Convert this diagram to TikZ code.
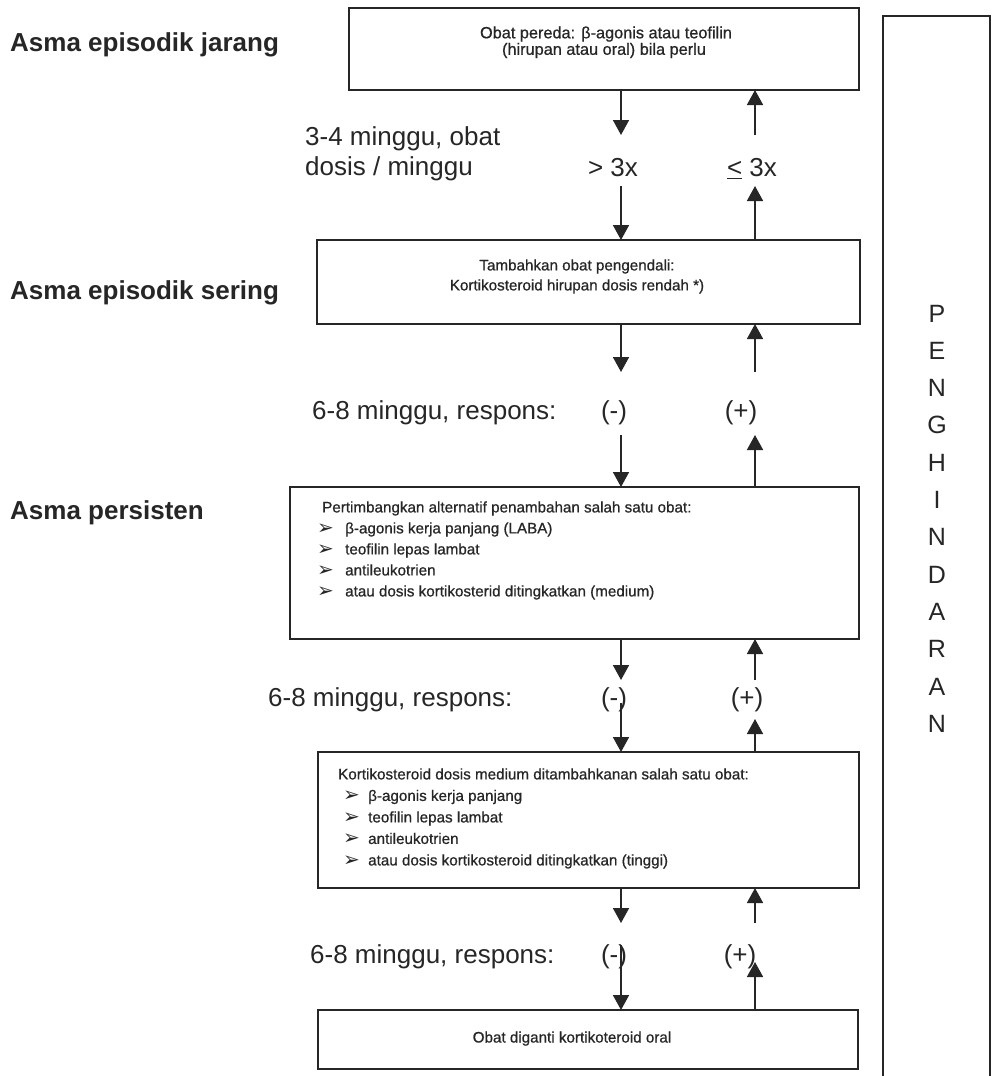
\documentclass[tikz,border=0pt]{standalone}
\usepackage{fontspec}
\setmainfont{Liberation Sans}
\newfontfamily\symfont{DejaVu Sans}
\newfontfamily\boxfont[FakeBold=0.7]{Liberation Sans}
\usetikzlibrary{arrows.meta}
\definecolor{ink}{HTML}{262626}
\newcommand{\bul}{{\symfont\fontsize{20}{20}\selectfont\raisebox{-1pt}{➢}}}
\tikzset{
  box/.style={draw=ink, line width=1.6pt, inner sep=0pt, outer sep=0pt},
  arr/.style={draw=ink, line width=1.7pt, -{Triangle[width=16pt,length=15pt]}},
  small/.style={font=\boxfont\fontsize{15.2}{18}\selectfont, text=ink, inner sep=0pt, anchor=base west},
  smallc/.style={small, anchor=base},
  big/.style={font=\fontsize{26}{30}\selectfont, text=ink, inner sep=0pt, anchor=base west},
  bigc/.style={big, anchor=base},
  lvl/.style={font=\fontsize{26}{30}\selectfont\bfseries, text=ink, inner sep=0pt, anchor=base west},
  side/.style={font=\fontsize{25}{30}\selectfont, text=ink, inner sep=0pt, anchor=base},
}
\begin{document}
\begin{tikzpicture}[x=1pt, y=-1pt]
\useasboundingbox[fill=white] (0,0) rectangle (993,1076);

% level labels
\node[lvl] (l1) at (10,51) {Asma episodik jarang};
\node[lvl] (l2) at (10,299) {Asma episodik sering};
\node[lvl] (l3) at (10,519) {Asma persisten};

% boxes
\node[box, minimum width=510pt, minimum height=82pt] (b1) at (604,49) {};
\node[box, minimum width=543pt, minimum height=84pt] (b2) at (588.5,282) {};
\node[box, minimum width=569pt, minimum height=152pt] (b3) at (574.5,563) {};
\node[box, minimum width=541pt, minimum height=136pt] (b4) at (588.5,820) {};
\node[box, minimum width=540pt, minimum height=59pt] (b5) at (588,1039.5) {};

% box texts
\node[smallc, font=\boxfont\fontsize{16.3}{19}\selectfont] (t11) at (606,38.3) {Obat pereda: β-agonis atau teofilin};
\node[smallc, font=\boxfont\fontsize{16.3}{19}\selectfont] (t12) at (604,54.8) {(hirupan atau oral) bila perlu};
\node[smallc] (t21) at (577,270.4) {Tambahkan obat pengendali:};
\node[smallc] (t22) at (577,290.4) {Kortikosteroid hirupan dosis rendah *)};

\node[small] (t31) at (322,512.4) {Pertimbangkan alternatif penambahan salah satu obat:};
\node[small] (t32) at (317,533.4) {\makebox[28pt][l]{\bul}β-agonis kerja panjang (LABA)};
\node[small] (t33) at (317,554.4) {\makebox[28pt][l]{\bul}teofilin lepas lambat};
\node[small] (t34) at (317,575.4) {\makebox[28pt][l]{\bul}antileukotrien};
\node[small] (t35) at (317,596.4) {\makebox[28pt][l]{\bul}atau dosis kortikosterid ditingkatkan (medium)};

\node[small] (t41) at (338,779.4) {Kortikosteroid dosis medium ditambahkanan salah satu obat:};
\node[small] (t42) at (343,800.9) {\makebox[25pt][l]{\bul}β-agonis kerja panjang};
\node[small] (t43) at (343,822.4) {\makebox[25pt][l]{\bul}teofilin lepas lambat};
\node[small] (t44) at (343,843.9) {\makebox[25pt][l]{\bul}antileukotrien};
\node[small] (t45) at (343,865.4) {\makebox[25pt][l]{\bul}atau dosis kortikosteroid ditingkatkan (tinggi)};

\node[smallc] (t51) at (572,1042.5) {Obat diganti kortikoteroid oral};

% step labels
\node[big] (s1a) at (305,145.3) {3-4 minggu, obat};
\node[big] (s1b) at (305,175.3) {dosis / minggu};
\node[bigc] (s1m) at (613,176.3) {> 3x};
\node[bigc] (s1p) at (752,176.3) {\underline{<} 3x};

\node[big] (s2) at (312,419.3) {6-8 minggu, respons:};
\node[bigc] (s2m) at (614,419.3) {(-)};
\node[bigc] (s2p) at (741,419.3) {(+)};

\node[big] (s3) at (268,706.3) {6-8 minggu, respons:};
\node[bigc] (s3m) at (614,706.3) {(-)};
\node[bigc] (s3p) at (747,706.3) {(+)};

\node[big] (s4) at (310,963.3) {6-8 minggu, respons:};
\node[bigc] (s4m) at (614,963.3) {(-)};
\node[bigc] (s4p) at (740,963.3) {(+)};

% arrow end points
\coordinate (d1a) at (621,135);  \coordinate (d1b) at (621,186);
\coordinate (u1a) at (755,135);  \coordinate (u1b) at (755,186);
\coordinate (d2a) at (621,372);  \coordinate (d2b) at (621,435);
\coordinate (u2a) at (755,372);  \coordinate (u2b) at (755,435);
\coordinate (d3a) at (621,680);  \coordinate (d3b) at (621,703);
\coordinate (u3a) at (755,680);  \coordinate (u3b) at (755,719);
\coordinate (d4a) at (621,923);  \coordinate (d4b) at (621,945);
\coordinate (u4a) at (755,923);  \coordinate (u4b) at (755,962);

% arrows
\draw[arr] (b1.south -| d1a) -- (d1a);
\draw[arr] (d1b) -- (b2.north -| d1b);
\draw[arr] (u1a) -- (b1.south -| u1a);
\draw[arr] (b2.north -| u1b) -- (u1b);

\draw[arr] (b2.south -| d2a) -- (d2a);
\draw[arr] (d2b) -- (b3.north -| d2b);
\draw[arr] (u2a) -- (b2.south -| u2a);
\draw[arr] (b3.north -| u2b) -- (u2b);

\draw[arr] (b3.south -| d3a) -- (d3a);
\draw[arr] (d3b) -- (b4.north -| d3b);
\draw[arr] (u3a) -- (b3.south -| u3a);
\draw[arr] (b4.north -| u3b) -- (u3b);

\draw[arr] (b4.south -| d4a) -- (d4a);
\draw[arr] (d4b) -- (b5.north -| d4b);
\draw[arr] (u4a) -- (b4.south -| u4a);
\draw[arr] (b5.north -| u4b) -- (u4b);

% right panel
\coordinate (pbl) at (883,1076);
\coordinate (pbr) at (990,1076);
\draw[draw=ink, line width=1.6pt] (pbl) |- (990,16) -- (pbr);
\foreach \ch [count=\i from 0] in {P,E,N,G,H,I,N,D,A,R,A,N}
  \node[side] (p\i) at (937,{322+37.3*\i}) {\ch};
\end{tikzpicture}
\end{document}
